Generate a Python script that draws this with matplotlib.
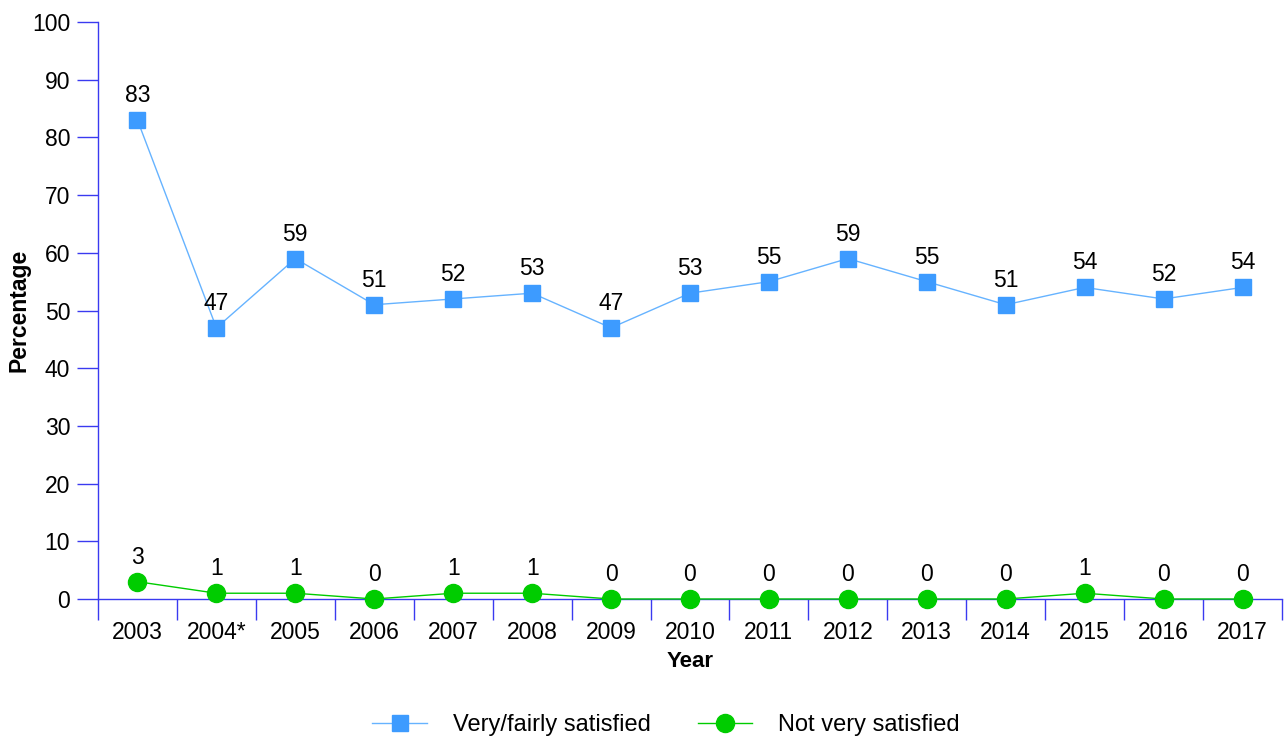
import numpy as np
import matplotlib.pyplot as plt

plt.rcParams['font.family'] = ['Liberation Sans', 'DejaVu Sans']

# Data
years = ['2003', '2004*', '2005', '2006', '2007', '2008', '2009', '2010',
         '2011', '2012', '2013', '2014', '2015', '2016', '2017']
satisfied = [83, 47, 59, 51, 52, 53, 47, 53, 55, 59, 55, 51, 54, 52, 54]
not_satisfied = [3, 1, 1, 0, 1, 1, 0, 0, 0, 0, 0, 0, 1, 0, 0]

axis_col = '#3a3af0'
blue_line = '#66b3ff'
blue_mark = '#3d9bff'
green = '#00cc00'

fig = plt.figure(figsize=(12.88, 7.42), dpi=100)
ax = fig.add_axes([98/1288, 1-599/742, (1282-98)/1288, (599-22)/742])

x = np.arange(len(years))
ax.plot(x, satisfied, color=blue_line, lw=1, marker='s', ms=11.5,
        mfc=blue_mark, mec=blue_mark, label='Very/fairly satisfied', clip_on=False, zorder=3)
ax.plot(x, not_satisfied, color=green, lw=1, marker='o', ms=13,
        mfc=green, mec=green, label='Not very satisfied', clip_on=False, zorder=3)

# value labels above points
for xi, v in zip(x, satisfied):
    ax.annotate(str(v), (xi, v), xytext=(0, 13), textcoords='offset points',
                ha='center', va='baseline', fontsize=16.5)
for xi, v in zip(x, not_satisfied):
    ax.annotate(str(v), (xi, v), xytext=(0, 13), textcoords='offset points',
                ha='center', va='baseline', fontsize=16.5)

ax.set_xlim(-0.5, len(years) - 0.5)
ax.set_ylim(0, 100)
ax.set_yticks(range(0, 101, 10))
ax.set_xticks(x)
ax.set_xticklabels(years, fontsize=16.5)
ax.set_xticks(np.arange(-0.5, len(years), 1), minor=True)
ax.tick_params(axis='x', which='major', length=0, pad=16)
ax.tick_params(axis='x', which='minor', length=15, color=axis_col, width=1)
ax.tick_params(axis='y', length=15, color=axis_col, width=1, labelsize=16.5, pad=5)

for s in ['top', 'right']:
    ax.spines[s].set_visible(False)
for s in ['left', 'bottom']:
    ax.spines[s].set_color(axis_col)
    ax.spines[s].set_linewidth(1)

ax.set_xlabel('Year', fontsize=16, fontweight='bold', labelpad=5)
ax.set_ylabel('Percentage', fontsize=16.5, fontweight='bold', labelpad=1)

fig.legend(loc='center', bbox_to_anchor=(666/1288, 1-725/742), ncol=2, frameon=False,
           fontsize=17, handlelength=2.3, columnspacing=2.0, handletextpad=1.1)

fig.savefig('out.png', dpi=100)
